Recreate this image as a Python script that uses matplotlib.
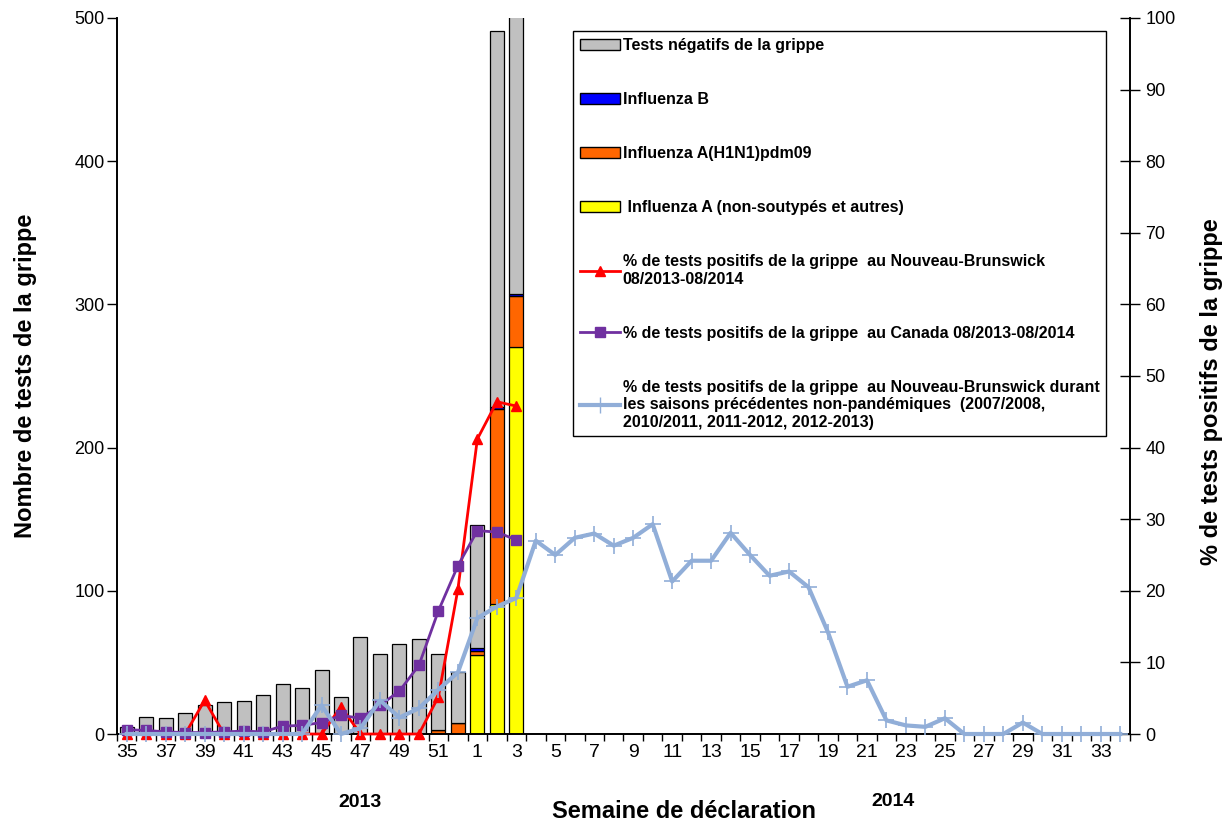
import matplotlib
matplotlib.use("Agg")
import matplotlib.pyplot as plt
import numpy as np
from matplotlib.patches import Patch
from matplotlib.lines import Line2D

plt.rcParams["font.family"] = ["Liberation Sans", "DejaVu Sans"]

# semaines de déclaration 35..52 (2013) puis 1..34 (2014)
weeks = list(range(35, 53)) + list(range(1, 35))

# nombre de tests (barres empilées)
flu_a_other = [0] * 18 + [55, 91, 270] + [0] * 31
flu_a_h1n1 = [0] * 16 + [3, 8] + [3, 136, 36] + [0] * 31
flu_b = [0] * 18 + [2, 1, 1] + [0] * 31
negatives = [5, 12, 11, 15, 20, 22, 23, 27, 35, 32, 45, 26, 68, 56, 63, 66, 53, 35,
             86, 263, 213] + [0] * 31

# % positifs (axe de droite)
pct_nb = [0, 0, 0, 0, 4.7, 0, 0, 0, 0, 0, 0, 3.8, 0, 0, 0, 0, 5.2, 20.2, 41.2, 46.4, 45.8]
pct_canada = [0.6, 0.5, 0.3, 0.2, 0.2, 0.3, 0.4, 0.3, 1.1, 1.2, 1.6, 2.6, 2.2, 4.0, 6.0,
              9.6, 17.2, 23.5, 28.4, 28.2, 27.1]
pct_prev = [0, 0, 0, 0, 0, 0, 0, 0, 0, 0, 4.0, 0, 0.8, 4.7, 2.3, 3.6, 6.2, 8.6,
            16.2, 17.8, 19.0, 27.0, 25.0, 27.4, 28.0, 26.3, 27.4, 29.3, 21.3, 24.2,
            24.2, 28.1, 25.0, 22.1, 22.7, 20.5, 14.2, 6.6, 7.5, 1.9, 1.2, 1.0, 2.2,
            0, 0, 0, 1.6, 0, 0, 0, 0, 0]

x = np.arange(len(weeks))
fig = plt.figure(figsize=(12.25, 8.25), dpi=100)
ax = fig.add_axes([0.0955, 0.1103, 0.8269, 0.8679])
ax2 = ax.twinx()

grey, blue, orange, yellow = "#C0C0C0", "#0000FF", "#FF6600", "#FFFF00"
red, purple, steel = "#FF0000", "#7030A0", "#91AED8"

w = 0.72
bottom = np.zeros(len(x))
for vals, col in [(flu_a_other, yellow), (flu_a_h1n1, orange), (flu_b, blue), (negatives, grey)]:
    vals = np.array(vals, dtype=float)
    ax.bar(x, vals, w, bottom=bottom, color=col, edgecolor="black", linewidth=0.9)
    bottom += vals

n = len(pct_nb)
ax2.plot(x[:n], pct_nb, color=red, lw=2, marker="^", ms=7, zorder=3, clip_on=False)
ax2.plot(x[:n], pct_canada, color=purple, lw=2, marker="s", ms=7, zorder=4, clip_on=False)
ax2.plot(x, pct_prev, color=steel, lw=3, marker="+", ms=11, mew=1.2, zorder=5, clip_on=False)

ax.set_xlim(-0.5, len(x) - 0.5)
ax.set_ylim(0, 500)
ax2.set_ylim(0, 100)
ax.set_yticks(range(0, 501, 100))
ax2.set_yticks(range(0, 101, 10))

ax.set_xticks(np.arange(-0.5, len(x), 1))
ax.set_xticklabels([])
ax.set_xticks(x[::2], minor=True)
ax.set_xticklabels([str(wk) for wk in weeks[::2]], minor=True, fontsize=14)
ax.tick_params(axis="x", which="major", direction="out", length=5, width=1)
ax.tick_params(axis="x", which="minor", length=0, pad=7)
ax.tick_params(axis="y", direction="out", length=7, width=1, labelsize=13, pad=2)
ax2.tick_params(axis="y", direction="inout", length=14, width=1, labelsize=13, pad=4)

for a in (ax, ax2):
    a.spines["top"].set_visible(False)
    for s in ("left", "right", "bottom"):
        a.spines[s].set_linewidth(1.2)

ax.set_ylabel("Nombre de tests de la grippe", fontsize=17, fontweight="bold", labelpad=27)
ax2.set_ylabel("% de tests positifs de la grippe", fontsize=17, fontweight="bold")
ax2.yaxis.set_label_coords(1.069, 0.478)
fig.text(0.558, 0.016, "Semaine de déclaration", fontsize=17, fontweight="bold",
         ha="center", va="center")
fig.text(0.294, 0.027, "2013", fontsize=14, fontweight="bold", ha="center", va="center")
fig.text(0.729, 0.029, "2014", fontsize=14, fontweight="bold", ha="center", va="center")

handles = [
    Patch(facecolor=grey, edgecolor="black"),
    Patch(facecolor=blue, edgecolor="black"),
    Patch(facecolor=orange, edgecolor="black"),
    Patch(facecolor=yellow, edgecolor="black"),
    Line2D([], [], color=red, lw=2, marker="^", ms=7),
    Line2D([], [], color=purple, lw=2, marker="s", ms=7),
    Line2D([], [], color=steel, lw=3, marker="+", ms=11),
]
labels = [
    "Tests négatifs de la grippe",
    "Influenza B",
    "Influenza A(H1N1)pdm09",
    " Influenza A (non-soutypés et autres)",
    "% de tests positifs de la grippe  au Nouveau-Brunswick\n08/2013-08/2014",
    "% de tests positifs de la grippe  au Canada 08/2013-08/2014",
    "% de tests positifs de la grippe  au Nouveau-Brunswick durant\n"
    "les saisons précédentes non-pandémiques  (2007/2008,\n"
    "2010/2011, 2011-2012, 2012-2013)",
]
leg = ax2.legend(handles, labels, loc="upper left", bbox_to_anchor=(0.468, 0.962),
                 bbox_transform=fig.transFigure, frameon=True, fancybox=False,
                 framealpha=1, edgecolor="black", prop={"weight": "bold", "size": 11.5},
                 labelspacing=2.45, handlelength=2.5, handletextpad=0.2,
                 borderpad=0.4, borderaxespad=0)
leg.get_frame().set_linewidth(1.0)

fig.savefig("out.png", dpi=100)
